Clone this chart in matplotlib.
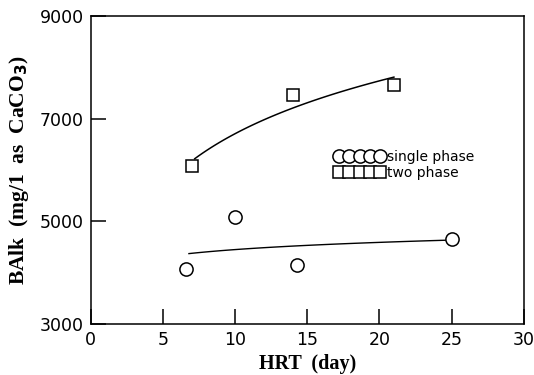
import numpy as np
import matplotlib
matplotlib.use("Agg")
import matplotlib.pyplot as plt

# two phase (squares)
hrt_two = [7.0, 14.0, 21.0]
balk_two = [6085, 7465, 7650]
# single phase (circles)
hrt_single = [6.6, 10.0, 14.3, 25.0]
balk_single = [4080, 5090, 4155, 4650]

x_ticks = [0, 5, 10, 15, 20, 25, 30]
y_ticks = [3000, 5000, 7000, 9000]


def log_fit(x, y, x0, x1):
    b, a = np.polyfit(np.log(x), y, 1)
    xs = np.linspace(x0, x1, 50)
    return xs, a + b * np.log(xs)


fig = plt.figure(figsize=(5.34, 3.75), dpi=100)
ax = fig.add_axes([0.170, 0.136, 0.811, 0.821])

xs, ys = log_fit(hrt_two, balk_two, 7.2, 21.0)
ax.plot(xs, ys, color="black", lw=1.1)
xs, ys = log_fit(hrt_single, balk_single, 6.8, 24.6)
ax.plot(xs, ys, color="black", lw=1.0)

ax.plot(hrt_single, balk_single, "o", ms=9.5, mfc="white", mec="black",
        mew=1.1, ls="none", label="single phase")
ax.plot(hrt_two, balk_two, "s", ms=9, mfc="white", mec="black",
        mew=1.1, ls="none", label="two phase")

ax.set_xlim(0, 30)
ax.set_ylim(3000, 9000)
ax.set_xticks(x_ticks)
ax.set_yticks(y_ticks)
ax.tick_params(direction="in", length=11, width=1.1, labelsize=12.5,
               pad=5, colors="black")
ax.tick_params(axis="x", pad=5)
for s in ax.spines.values():
    s.set_linewidth(1.1)

ax.set_xlabel("HRT  (day)", family="Liberation Serif", weight="bold",
              fontsize=14.5, labelpad=4)
ax.set_ylabel(r"BAlk  (mg/1  as  CaCO$_\mathbf{3}$)", family="Liberation Serif",
              weight="bold", fontsize=15.5, labelpad=6)

leg = ax.legend(loc="upper left", bbox_to_anchor=(0.563, 0.565),
                numpoints=5, handlelength=3.6, handletextpad=0.2,
                labelspacing=0.15, frameon=False, fontsize=10,
                borderpad=0, borderaxespad=0)

fig.savefig("out.png", dpi=100)
